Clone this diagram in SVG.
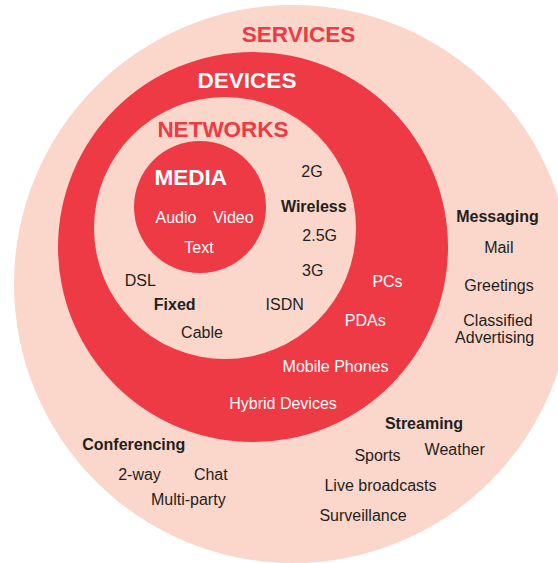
<svg xmlns="http://www.w3.org/2000/svg" width="558" height="563" viewBox="0 0 558 563">
  <style>
    .pale { fill: #FBD6CB; }
    .red { fill: #EE3A44; }
    text { font-family: "Liberation Sans", Arial, Helvetica, sans-serif; text-anchor: middle; }
    .title { font-size: 22.5px; font-weight: bold; }
    .title-red { fill: #EE3A44; }
    .title-white { fill: #FFFFFF; }
    .item { font-size: 16px; fill: #231F20; }
    .item-white { font-size: 16px; fill: #FFFFFF; }
    .head { font-size: 16px; font-weight: bold; fill: #231F20; }
  </style>
  <rect width="558" height="563" fill="#FFFFFF"/>

  <!-- Outer ring: services -->
  <g id="services">
    <circle class="pale" cx="293" cy="284" r="279"/>
    <text class="title title-red" x="298.5" y="42">SERVICES</text>
    <text class="head" x="497.5" y="221.7">Messaging</text>
    <text class="item" x="498.8" y="253.3">Mail</text>
    <text class="item" x="499" y="290.7">Greetings</text>
    <text class="item" x="498" y="326">Classified</text>
    <text class="item" x="494.7" y="343.3">Advertising</text>
    <text class="head" x="424" y="429.3">Streaming</text>
    <text class="item" x="454.7" y="455">Weather</text>
    <text class="item" x="377.5" y="460.7">Sports</text>
    <text class="item" x="380.5" y="491">Live broadcasts</text>
    <text class="item" x="363" y="520.7">Surveillance</text>
    <text class="head" x="133.8" y="450">Conferencing</text>
    <text class="item" x="139.5" y="480">2-way</text>
    <text class="item" x="210.8" y="480">Chat</text>
    <text class="item" x="188.3" y="505">Multi-party</text>
  </g>

  <!-- Second ring: devices -->
  <g id="devices">
    <circle class="red" cx="253" cy="247" r="195"/>
    <text class="title title-white" x="247" y="88.3">DEVICES</text>
    <text class="item-white" x="387.5" y="287.3">PCs</text>
    <text class="item-white" x="365.3" y="325.7">PDAs</text>
    <text class="item-white" x="335.5" y="371.7">Mobile Phones</text>
    <text class="item-white" x="283" y="409.3">Hybrid Devices</text>
  </g>

  <!-- Third ring: networks -->
  <g id="networks">
    <circle class="pale" cx="225" cy="228" r="131"/>
    <text class="title title-red" x="223" y="136.7">NETWORKS</text>
    <text class="item" x="312" y="176.7">2G</text>
    <text class="head" x="313.8" y="211.7">Wireless</text>
    <text class="item" x="319.7" y="241">2.5G</text>
    <text class="item" x="312.7" y="276">3G</text>
    <text class="item" x="140.3" y="286">DSL</text>
    <text class="head" x="174.7" y="310">Fixed</text>
    <text class="item" x="284.7" y="310">ISDN</text>
    <text class="item" x="202" y="337.7">Cable</text>
  </g>

  <!-- Core: media -->
  <g id="media">
    <circle class="red" cx="200" cy="207" r="66"/>
    <text class="title title-white" x="190.7" y="185">MEDIA</text>
    <text class="item-white" x="176" y="222.7">Audio</text>
    <text class="item-white" x="233.3" y="222.7">Video</text>
    <text class="item-white" x="199" y="252.7">Text</text>
  </g>
</svg>
